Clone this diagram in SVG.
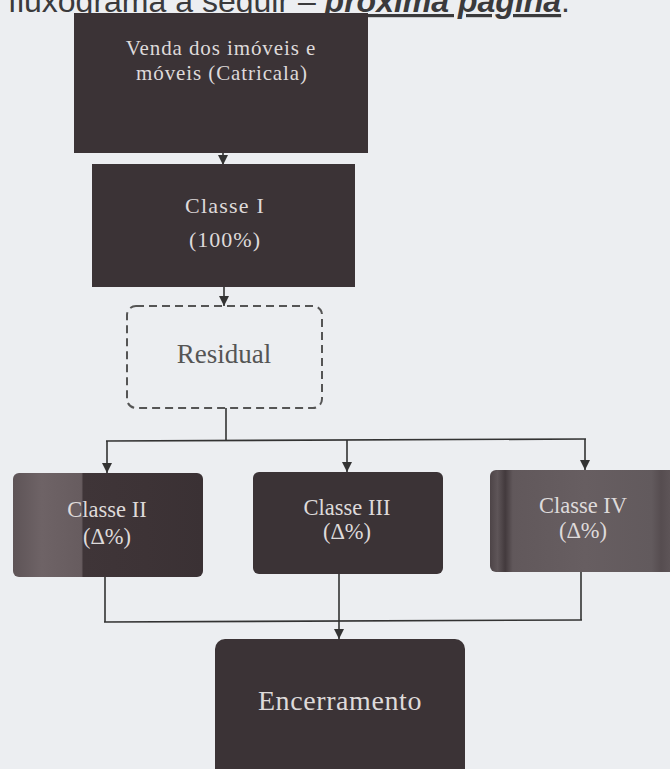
<svg xmlns="http://www.w3.org/2000/svg" width="670" height="769" viewBox="0 0 670 769">
<defs>
<style>
.bg{fill:#eceef1}
.hdr{font-family:"Liberation Sans",Arial,sans-serif;font-size:32px;fill:#3a3a3c}
.lbl{font-family:"Liberation Serif","Times New Roman",serif;fill:#dedada;text-anchor:middle}
.dark{fill:#3b3336}
.ln{stroke:#333;stroke-width:1.6;fill:none}
</style>
<marker id="ah" viewBox="0 0 10 10" refX="10" refY="5" markerWidth="10" markerHeight="10" markerUnits="userSpaceOnUse" orient="auto">
<path d="M0,0 L10,5 L0,10 z" fill="#333"/>
</marker>
<linearGradient id="g2" x1="0" x2="1" y1="0" y2="0">
<stop offset="0" stop-color="#5e5457"/>
<stop offset="0.15" stop-color="#6e6366"/>
<stop offset="0.36" stop-color="#675c5f"/>
<stop offset="0.37" stop-color="#3f3538"/>
<stop offset="0.7" stop-color="#3d3336"/>
<stop offset="1" stop-color="#3a3134"/>
</linearGradient>
<linearGradient id="g4" x1="0" x2="1" y1="0" y2="0">
<stop offset="0" stop-color="#4d4447"/>
<stop offset="0.04" stop-color="#5e5558"/>
<stop offset="0.08" stop-color="#433a3d"/>
<stop offset="0.12" stop-color="#61585b"/>
<stop offset="0.5" stop-color="#675e61"/>
<stop offset="0.85" stop-color="#625a5d"/>
<stop offset="0.9" stop-color="#564d50"/>
<stop offset="1" stop-color="#655c5f"/>
</linearGradient>
</defs>
<rect class="bg" x="0" y="0" width="670" height="769"/>
<text class="hdr" x="8" y="12">fluxograma a seguir – <tspan font-weight="bold" font-style="italic" text-decoration="underline">próxima página</tspan>.</text>

<g id="connectors">
<line class="ln" x1="223" y1="153" x2="223" y2="165" marker-end="url(#ah)"/>
<line class="ln" x1="224" y1="287" x2="224" y2="306" marker-end="url(#ah)"/>
<line class="ln" x1="226" y1="408" x2="226" y2="440"/>
<line class="ln" x1="106" y1="441" x2="586" y2="439"/>
<line class="ln" x1="107" y1="441" x2="107" y2="473" marker-end="url(#ah)"/>
<line class="ln" x1="347" y1="440" x2="347" y2="472" marker-end="url(#ah)"/>
<line class="ln" x1="585" y1="439" x2="585" y2="470" marker-end="url(#ah)"/>
<line class="ln" x1="105" y1="577" x2="105" y2="622"/>
<line class="ln" x1="581" y1="572" x2="581" y2="620"/>
<line class="ln" x1="104" y1="622" x2="582" y2="620"/>
<line class="ln" x1="339" y1="574" x2="339" y2="639" marker-end="url(#ah)"/>
</g>

<g id="venda">
<rect class="dark" x="74" y="13" width="294" height="140"/>
<text class="lbl" x="221" y="55" font-size="21" letter-spacing="0.9">Venda dos imóveis e</text>
<text class="lbl" x="222" y="80" font-size="21" letter-spacing="0.9">móveis (Catricala)</text>
</g>

<g id="classe1">
<rect class="dark" x="92" y="164" width="263" height="123"/>
<text class="lbl" x="225" y="213" font-size="22" letter-spacing="1.2">Classe I</text>
<text class="lbl" x="225" y="247" font-size="22" letter-spacing="1">(100%)</text>
</g>

<g id="residual">
<rect x="127" y="306" width="195" height="102" rx="9" fill="none" stroke="#555" stroke-width="2" stroke-dasharray="8,5"/>
<text x="224" y="363" font-family="'Liberation Serif','Times New Roman',serif" font-size="27" fill="#555" text-anchor="middle">Residual</text>
</g>

<g id="classe2">
<rect x="13" y="473" width="190" height="104" rx="6" fill="url(#g2)"/>
<text class="lbl" x="107" y="517" font-size="22.5">Classe II</text>
<text class="lbl" x="107" y="544" font-size="22.5">(Δ%)</text>
</g>

<g id="classe3">
<rect class="dark" x="253" y="472" width="190" height="102" rx="6"/>
<text class="lbl" x="347" y="515" font-size="22.5">Classe III</text>
<text class="lbl" x="347" y="539" font-size="22.5">(Δ%)</text>
</g>

<g id="classe4">
<rect x="490" y="470" width="190" height="102" rx="6" fill="url(#g4)"/>
<text class="lbl" x="583" y="513" font-size="22.5">Classe IV</text>
<text class="lbl" x="583" y="538" font-size="22.5">(Δ%)</text>
</g>

<g id="encerramento">
<rect class="dark" x="215" y="639" width="250" height="150" rx="10"/>
<text class="lbl" x="340" y="710" font-size="28" letter-spacing="0.6">Encerramento</text>
</g>
</svg>
